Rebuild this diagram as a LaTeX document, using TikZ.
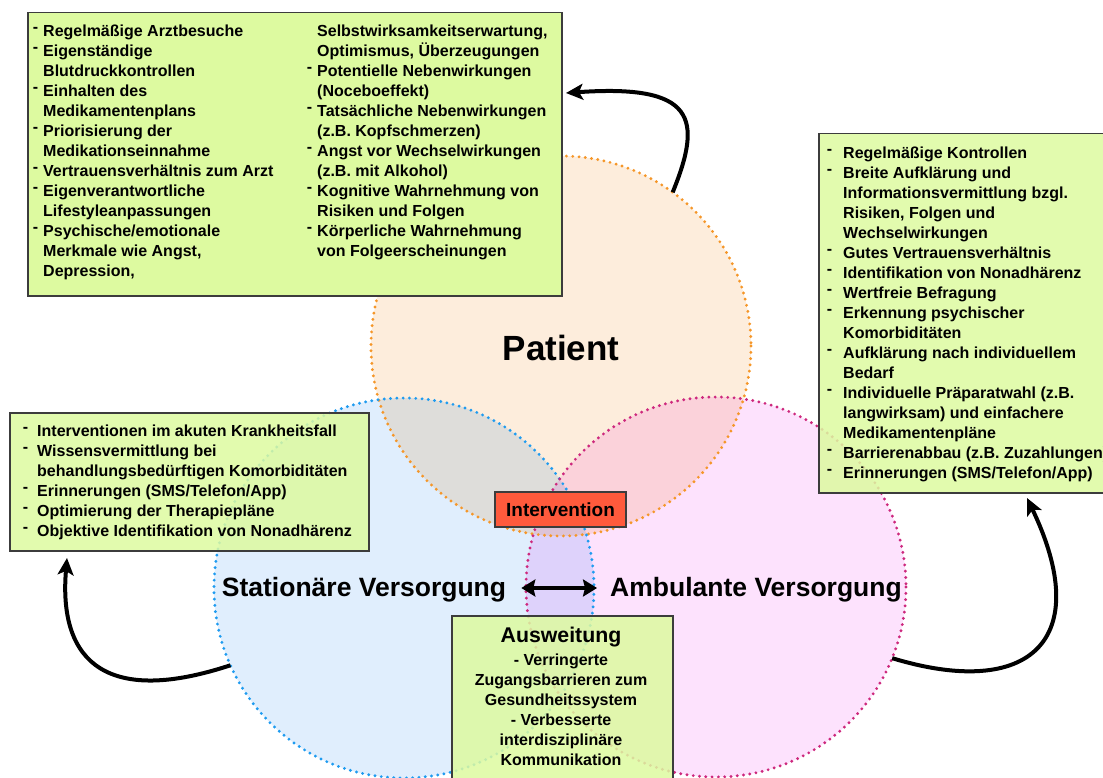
\documentclass[tikz,border=0pt]{standalone}
\usepackage{fontspec}
\setmainfont{Liberation Sans}
\usetikzlibrary{arrows.meta}
\definecolor{boxgreen}{RGB}{221,250,160}
\definecolor{boxline}{RGB}{60,60,60}
\definecolor{pfill}{RGB}{253,237,220}
\definecolor{pline}{RGB}{245,150,40}
\definecolor{sfill}{RGB}{224,238,253}
\definecolor{sline}{RGB}{30,155,240}
\definecolor{afill}{RGB}{253,226,253}
\definecolor{aline}{RGB}{205,40,125}
\definecolor{intred}{RGB}{255,90,60}
\newcommand\dsh[1]{\llap{\raisebox{.24em}{-}\hspace{#1}}}
\tikzset{
  circ/.style={circle, minimum size=380pt, inner sep=0pt, outer sep=0pt},
  circline/.style={line width=3.2pt, dash pattern=on 0pt off 6.3pt, line cap=round},
  greenbox/.style={draw=boxline, line width=1.5pt, fill=boxgreen, anchor=north west, inner sep=0pt},
  tx/.style={font=\bfseries\fontsize{16}{20}\selectfont, align=left, inner sep=0pt, anchor=north west},
  txc/.style={font=\bfseries\fontsize{16}{20}\selectfont, align=center, inner sep=0pt, anchor=north},
  biglabel/.style={font=\bfseries\fontsize{26.5}{30}\selectfont, inner sep=0pt, anchor=base},
  carrow/.style={line width=4pt, -{Stealth[length=17pt,width=16pt,inset=4pt]}},
  dblarrow/.style={line width=4.5pt, {Stealth[length=14pt,width=17pt,inset=2pt]}-{Stealth[length=14pt,width=17pt,inset=2pt]}}
}
\begin{document}
\begin{tikzpicture}[x=1pt,y=-1pt]
\useasboundingbox (0,0) rectangle (1103,778);
\clip (0,0) rectangle (1103,778);
% circles
\begin{scope}[blend mode=multiply]
\node[circ, fill=pfill] (P) at (561,346) {};
\node[circ, fill=sfill] (S) at (404,588) {};
\node[circ, fill=afill] (A) at (716,587) {};
\end{scope}
\draw[circline, draw=pline] (P.center) circle (190);
\draw[circline, draw=sline] (S.center) circle (190);
\draw[circline, draw=aline] (A.center) circle (190);
% patient box
\node[greenbox, minimum width=534pt, minimum height=283pt] (pbox) at (27,12) {};
\node[tx] (pcol1) at (43,22) {\strut\dsh{5pt}Regelmäßige Arztbesuche\\
\dsh{5pt}Eigenständige\\
Blutdruckkontrollen\\
\dsh{5pt}Einhalten des\\
Medikamentenplans\\
\dsh{5pt}Priorisierung der\\
Medikationseinnahme\\
\dsh{5pt}Vertrauensverhältnis zum Arzt\\
\dsh{5pt}Eigenverantwortliche\\
Lifestyleanpassungen\\
\dsh{5pt}Psychische/emotionale\\
Merkmale wie Angst,\\
Depression,};
\node[tx] (pcol2) at (317,22) {\strut Selbstwirksamkeitserwartung,\\
Optimismus, Überzeugungen\\
\dsh{5pt}Potentielle Nebenwirkungen\\
(Noceboeffekt)\\
\dsh{5pt}Tatsächliche Nebenwirkungen\\
(z.B. Kopfschmerzen)\\
\dsh{5pt}Angst vor Wechselwirkungen\\
(z.B. mit Alkohol)\\
\dsh{5pt}Kognitive Wahrnehmung von\\
Risiken und Folgen\\
\dsh{5pt}Körperliche Wahrnehmung\\
von Folgeerscheinungen};
% ambulant box
\node[greenbox, fill opacity=0.85, minimum width=300pt, minimum height=359pt] (abox) at (818,133) {};
\node[tx] (atext) at (843,144) {\strut\dsh{11pt}Regelmäßige Kontrollen\\
\dsh{11pt}Breite Aufklärung und\\
Informationsvermittlung bzgl.\\
Risiken, Folgen und\\
Wechselwirkungen\\
\dsh{11pt}Gutes Vertrauensverhältnis\\
\dsh{11pt}Identifikation von Nonadhärenz\\
\dsh{11pt}Wertfreie Befragung\\
\dsh{11pt}Erkennung psychischer\\
Komorbiditäten\\
\dsh{11pt}Aufklärung nach individuellem\\
Bedarf\\
\dsh{11pt}Individuelle Präparatwahl (z.B.\\
langwirksam) und einfachere\\
Medikamentenpläne\\
\dsh{11pt}Barrierenabbau (z.B. Zuzahlungen)\\
\dsh{11pt}Erinnerungen (SMS/Telefon/App)};
% stationary box
\node[greenbox, fill opacity=0.85, minimum width=359pt, minimum height=138pt] (sbox) at (9,412) {};
\node[tx] (stext) at (37,422) {\strut\dsh{9pt}Interventionen im akuten Krankheitsfall\\
\dsh{9pt}Wissensvermittlung bei\\
behandlungsbedürftigen Komorbiditäten\\
\dsh{9pt}Erinnerungen (SMS/Telefon/App)\\
\dsh{9pt}Optimierung der Therapiepläne\\
\dsh{9pt}Objektive Identifikation von Nonadhärenz};
% Ausweitung box
\node[greenbox, fill opacity=0.85, minimum width=221pt, minimum height=175pt] (wbox) at (451,615) {};
\node[font=\bfseries\fontsize{21.3}{24}\selectfont, inner sep=0pt, anchor=base] (wtitle) at (561,642.7) {Ausweitung};
\node[txc] (wtext) at (561,651) {\strut- Verringerte\\
Zugangsbarrieren zum\\
Gesundheitssystem\\
- Verbesserte\\
interdisziplinäre\\
Kommunikation};
% intervention
\node[draw=boxline, line width=1.5pt, fill=intred, minimum width=131pt, minimum height=35pt, inner sep=0pt, font=\bfseries\fontsize{19}{22}\selectfont] (int) at (560.5,509.5) {Intervention};
% labels
\node[font=\bfseries\fontsize{35}{40}\selectfont, inner sep=0pt, anchor=base] (plabel) at (561,360.6) {Patient};
\node[biglabel] (slabel) at (364,596.5) {Stationäre Versorgung};
\node[biglabel] (alabel) at (756,596.5) {Ambulante Versorgung};
\draw[dblarrow] ([xshift=15pt,yshift=8.5pt]slabel.base east) -- ([xshift=-13pt,yshift=8.5pt]alabel.base west);
% curved arrows
\coordinate (ptip) at (566,93);
\coordinate (stip) at (67,558);
\coordinate (atip) at (1027,498);
\draw[carrow] (P.54.7) .. controls (703,118) and (695,84) .. (ptip);
\draw[carrow] (S.204.2) .. controls (110,705) and (58,665) .. (stip);
\draw[carrow] (A.-22) .. controls (1030,700) and (1095,640) .. (atip);
\end{tikzpicture}
\end{document}
